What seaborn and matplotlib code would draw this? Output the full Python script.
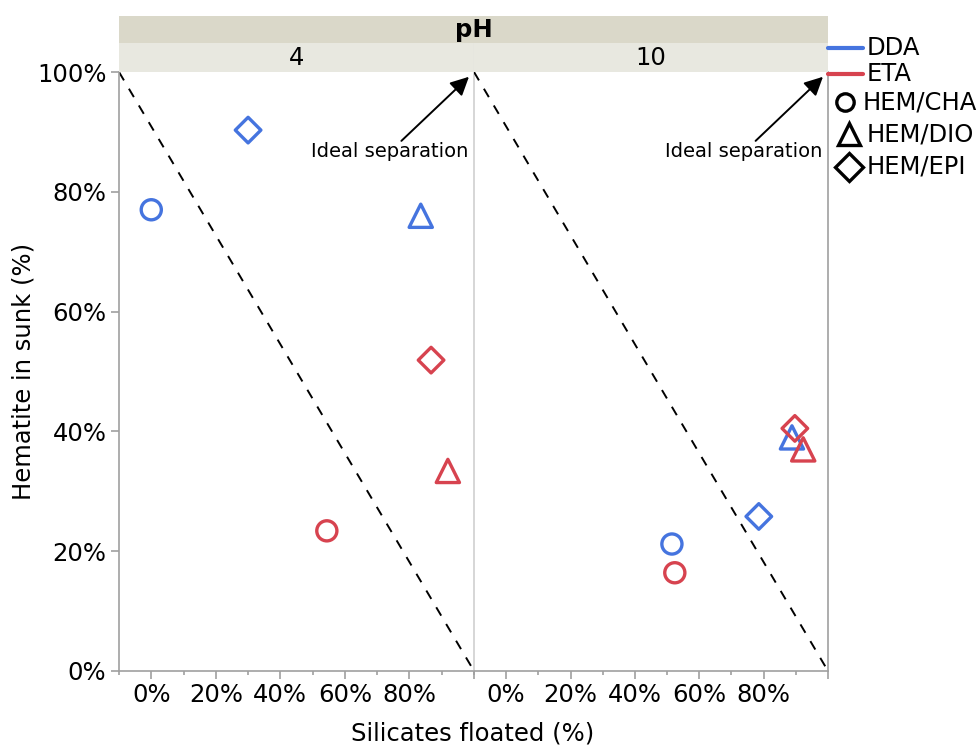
import matplotlib
matplotlib.use("Agg")
import matplotlib.pyplot as plt
import pandas as pd
import seaborn as sns
from matplotlib.lines import Line2D
from matplotlib.ticker import MultipleLocator

# data
ph_levels = ["4", "10"]
ph = ["4"] * 6 + ["10"] * 6
reagent = ["DDA", "DDA", "DDA", "ETA", "ETA", "ETA"] * 2
mineral = ["HEM/CHA", "HEM/DIO", "HEM/EPI"] * 4
silicates_floated = [0, 83.5, 30, 54.4, 91.9, 86.7, 51.5, 88.8, 78.5, 52.4, 92.3, 89.7]
hematite_sunk = [77, 76, 90.3, 23.4, 33.4, 51.9, 21.2, 39, 25.8, 16.4, 37, 40.5]

# reference line from the top-left corner to the bottom-right corner
diag_x = [-10, 100]
diag_y = [100, 0]

x_ticks = [0, 20, 40, 60, 80, 100]
x_labels = ["0%", "20%", "40%", "60%", "80%", ""]
y_ticks = [0, 20, 40, 60, 80, 100]
y_labels = ["0%", "20%", "40%", "60%", "80%", "100%"]

reagent_colors = {"DDA": "#4574df", "ETA": "#d7434f"}
mineral_markers = {"HEM/CHA": "o", "HEM/DIO": "^", "HEM/EPI": "D"}
mineral_sizes = {"HEM/CHA": 210, "HEM/DIO": 280, "HEM/EPI": 170}

df = pd.DataFrame({
    "pH": ph,
    "reagent": reagent,
    "mineral": mineral,
    "silicates": silicates_floated,
    "hematite": hematite_sunk,
})

sns.set_style("ticks")
plt.rcParams["font.family"] = ["DejaVu Sans"]
plt.rcParams["text.color"] = "black"
plt.rcParams["axes.labelcolor"] = "black"
plt.rcParams["xtick.labelcolor"] = "black"
plt.rcParams["ytick.labelcolor"] = "black"

FS = 17.5
W, H = 979, 747
fig = plt.figure(figsize=(W / 100, H / 100), dpi=100)


def fx(px):
    return px / W


def fy(py):
    return 1 - py / H


axis_gray = "#a0a0a0"
light_gray = "#d0d0d0"
panels = [(119, 474), (474, 828)]
top, bottom = 72, 671

for i, (level, (x0, x1)) in enumerate(zip(ph_levels, panels)):
    ax = fig.add_axes([fx(x0), fy(bottom), fx(x1 - x0), (bottom - top) / H])
    sub = df[df["pH"] == level]
    ax.plot(diag_x, diag_y, color="black", lw=1.4, ls=(0, (5, 5)), zorder=1)
    sns.scatterplot(
        data=sub, x="silicates", y="hematite",
        hue="reagent", palette=reagent_colors,
        style="mineral", markers=mineral_markers,
        size="mineral", sizes=mineral_sizes,
        legend=False, ax=ax, zorder=3, clip_on=False,
    )
    coll = ax.collections[-1]
    fc = coll.get_facecolors()
    coll.set_edgecolors(fc)
    coll.set_facecolors("none")
    coll.set_linewidths(2.4)

    ax.set_xlim(-10, 100)
    ax.set_ylim(0, 100)
    ax.set_xticks(x_ticks, labels=x_labels)
    ax.xaxis.set_minor_locator(MultipleLocator(20, offset=10))
    ax.tick_params(axis="x", which="major", length=6, width=1.2,
                   color=axis_gray, labelsize=FS, pad=3)
    ax.tick_params(axis="x", which="minor", length=3, width=1.2,
                   color=axis_gray)
    ax.set_xlabel("")
    ax.set_ylabel("")
    ax.spines["top"].set_visible(False)
    ax.spines["bottom"].set_color(axis_gray)
    ax.spines["bottom"].set_linewidth(1.2)
    if i == 0:
        ax.set_yticks(y_ticks, labels=y_labels)
        ax.tick_params(axis="y", length=6, width=1.2, color=axis_gray,
                       labelsize=FS, pad=3)
        ax.spines["left"].set_color(axis_gray)
        ax.spines["left"].set_linewidth(1.2)
        ax.spines["right"].set_color(light_gray)
        ax.spines["right"].set_linewidth(1.2)
        ax.spines["right"].set_zorder(10)
        ax.set_ylabel("Hematite in sunk (%)", fontsize=FS, labelpad=1)
    else:
        ax.patch.set_visible(False)
        ax.set_yticks(y_ticks)
        ax.tick_params(axis="y", left=False, labelleft=False)
        ax.spines["left"].set_visible(False)
        ax.spines["right"].set_color(axis_gray)
        ax.spines["right"].set_linewidth(1.2)

    ax.annotate(
        "", xy=(100, 100), xytext=(77.5, 88.5),
        arrowprops=dict(arrowstyle="-|>", color="black", lw=1.4,
                        mutation_scale=28, shrinkA=0, shrinkB=5),
        annotation_clip=False, zorder=5,
    )
    ax.text(98.3, 85.8, "Ideal separation", ha="right", va="baseline",
            fontsize=14)

    # facet strip
    strip = fig.add_axes([fx(x0), fy(top), fx(x1 - x0), 29 / H])
    strip.set_facecolor("#e8e8e0")
    strip.set_xticks([])
    strip.set_yticks([])
    for side in ("top", "left", "bottom"):
        strip.spines[side].set_visible(False)
    strip.spines["right"].set_color(light_gray)
    strip.spines["right"].set_visible(i == 0)
    strip.text(0.5, 0.47, level, ha="center", va="center", fontsize=FS,
               transform=strip.transAxes)

title_strip = fig.add_axes([fx(119), fy(43), fx(828 - 119), 27 / H])
title_strip.set_facecolor("#dad8c9")
title_strip.set_xticks([])
title_strip.set_yticks([])
for side in title_strip.spines.values():
    side.set_visible(False)
title_strip.text(0.5, 0.5, "pH", ha="center", va="center", fontsize=FS,
                 fontweight="bold", transform=title_strip.transAxes)

fig.text(fx(473), fy(734), "Silicates floated (%)", ha="center",
         va="center", fontsize=FS)

# legend, placed entry by entry as in the reference
for name, y in zip(["DDA", "ETA"], [48, 74]):
    fig.add_artist(Line2D([fx(828), fx(863)], [fy(y), fy(y)],
                          color=reagent_colors[name], lw=3))
    fig.text(fx(867), fy(y), name, ha="left", va="center", fontsize=FS)

legend_marks = [
    ("HEM/CHA", 845, 102, 863, 12.5),
    ("HEM/DIO", 849, 134, 867, 16),
    ("HEM/EPI", 849, 167, 867, 14.5),
]
for name, mx, my, tx, ms in legend_marks:
    fig.add_artist(Line2D([fx(mx)], [fy(my)], ls="none",
                          marker=mineral_markers[name], ms=ms, mfc="none",
                          mec="black", mew=2.4))
    fig.text(fx(tx), fy(my), name, ha="left", va="center", fontsize=FS)

fig.savefig("out.png", dpi=100)
